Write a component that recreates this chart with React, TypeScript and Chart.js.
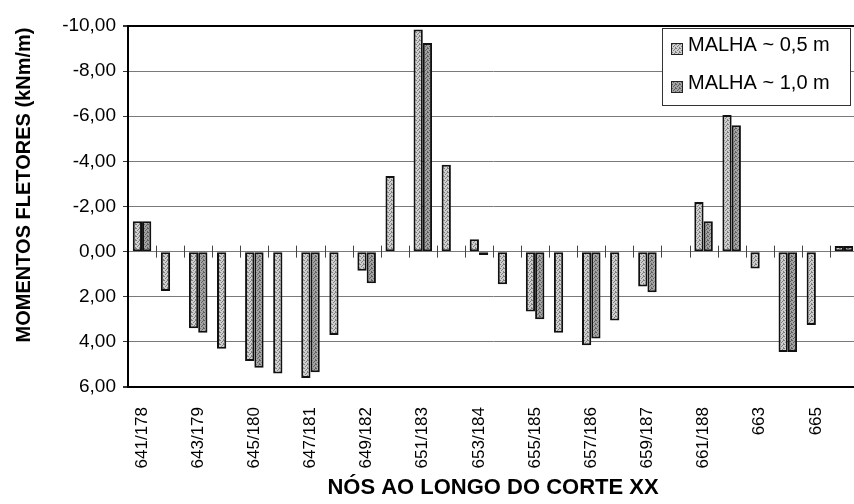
import React, { useEffect, useRef } from 'react';
import { Chart, registerables } from 'chart.js';

Chart.register(...registerables);

const nodes = ['641/178', '642', '643/179', '644', '645/180', '646', '647/181', '648', '649/182', '650', '651/183', '652', '653/184', '654', '655/185', '656', '657/186', '658', '659/187', '660', '661/188', '662', '663', '664', '665', '666'];
const tickLabels = ['641/178', '', '643/179', '', '645/180', '', '647/181', '', '649/182', '', '651/183', '', '653/184', '', '655/185', '', '657/186', '', '659/187', '', '661/188', '', '663', '', '665', ''];
const malha05 = [-1.35, 1.75, 3.4, 4.3, 4.85, 5.4, 5.6, 3.7, 0.85, -3.35, -9.85, -3.85, -0.55, 1.45, 2.65, 3.6, 4.15, 3.05, 1.55, null, -2.2, -6.05, 0.75, 4.45, 3.25, -0.25];
const malha10 = [-1.35, null, 3.6, null, 5.15, null, 5.35, null, 1.4, null, -9.25, null, 0.15, null, 3.0, null, 3.85, null, 1.8, null, -1.35, -5.6, null, 4.45, null, -0.25];
const seriesNames = ['MALHA ~ 0,5 m', 'MALHA ~ 1,0 m'];
const yMin = -10;
const yMax = 6;
const yStep = 2;
const yTitle = 'MOMENTOS FLETORES (kNm/m)';
const xTitle = 'NÓS AO LONGO DO CORTE XX';

const FONT = "Arial, 'Liberation Sans', sans-serif";

function makePattern(base: string, dot: string): CanvasPattern | string {
  const c = document.createElement('canvas');
  c.width = 4;
  c.height = 4;
  const g = c.getContext('2d');
  if (!g) return base;
  g.fillStyle = base;
  g.fillRect(0, 0, 4, 4);
  g.fillStyle = dot;
  g.fillRect(0, 0, 1, 1);
  g.fillRect(2, 1, 1, 1);
  g.fillRect(1, 2, 1, 1);
  g.fillRect(3, 3, 1, 1);
  g.fillRect(3, 0, 1, 1);
  const p = g.createPattern(c, 'repeat');
  return p || base;
}

const zeroTicksPlugin = {
  id: 'zeroTicks',
  beforeDatasetsDraw(chart: any) {
    const { ctx, scales } = chart;
    const x = scales.x;
    const y = scales.y;
    const y0 = y.getPixelForValue(0);
    const n = nodes.length;
    const w = (x.right - x.left) / n;
    ctx.save();
    ctx.strokeStyle = '#444';
    ctx.lineWidth = 1;
    for (let i = 1; i < n; i++) {
      const px = Math.round(x.left + w * i) + 0.5;
      ctx.beginPath();
      ctx.moveTo(px, y0 - 6);
      ctx.lineTo(px, y0 + 6);
      ctx.stroke();
    }
    ctx.restore();
  },
};

const customLegendPlugin = {
  id: 'customLegend',
  afterDraw(chart: any) {
    const { ctx, chartArea } = chart;
    const bw = 188;
    const bh = 77;
    const bx = chartArea.right - 8 - bw;
    const by = chartArea.top + 2;
    ctx.save();
    ctx.fillStyle = '#ffffff';
    ctx.fillRect(bx, by, bw, bh);
    ctx.strokeStyle = '#333';
    ctx.lineWidth = 1;
    ctx.strokeRect(bx + 0.5, by + 0.5, bw, bh);
    ctx.font = `20px ${FONT}`;
    ctx.textBaseline = 'middle';
    ctx.textAlign = 'left';
    chart.data.datasets.forEach((ds: any, i: number) => {
      const cy = by + 17 + i * 38;
      ctx.fillStyle = ds.backgroundColor;
      ctx.fillRect(bx + 9, cy - 2, 12, 12);
      ctx.strokeStyle = '#222';
      ctx.lineWidth = 1;
      ctx.strokeRect(bx + 9.5, cy - 1.5, 11, 11);
      ctx.fillStyle = '#000';
      ctx.fillText(ds.label, bx + 26, cy);
    });
    ctx.restore();
  },
};

const yTitlePlugin = {
  id: 'yTitleCustom',
  afterDraw(chart: any) {
    const { ctx } = chart;
    ctx.save();
    ctx.translate(24, 185);
    ctx.rotate(-Math.PI / 2);
    ctx.font = `bold 20px ${FONT}`;
    ctx.fillStyle = '#000';
    ctx.textAlign = 'center';
    ctx.textBaseline = 'middle';
    ctx.fillText(yTitle, 0, 0);
    ctx.restore();
  },
};

export default function App() {
  const canvasRef = useRef<HTMLCanvasElement | null>(null);

  useEffect(() => {
    if (!canvasRef.current) return;
    const light = makePattern('#cfcfcf', '#7e7e7e');
    const dark = makePattern('#a2a2a2', '#5e5e5e');
    const chart = new Chart(canvasRef.current, {
      type: 'bar',
      data: {
        labels: nodes,
        datasets: [
          {
            label: seriesNames[0],
            data: malha05 as any,
            backgroundColor: light as any,
            borderColor: '#111',
            borderWidth: 2,
            borderSkipped: false,
            barPercentage: 1.0,
            categoryPercentage: 0.66,
          },
          {
            label: seriesNames[1],
            data: malha10 as any,
            backgroundColor: dark as any,
            borderColor: '#111',
            borderWidth: 2,
            borderSkipped: false,
            barPercentage: 1.0,
            categoryPercentage: 0.66,
          },
        ],
      },
      options: {
        animation: false,
        responsive: true,
        maintainAspectRatio: false,
        layout: { padding: { left: 0, top: 26, right: 2, bottom: 0 } },
        plugins: {
          legend: { display: false },
          tooltip: { enabled: false },
        },
        scales: {
          x: {
            grid: { display: false, drawTicks: false },
            border: { display: true, color: '#000', width: 2 },
            ticks: {
              autoSkip: false,
              minRotation: 90,
              maxRotation: 90,
              padding: 20,
              color: '#000',
              font: { family: FONT, size: 17 },
              callback: (_v: any, i: number) => tickLabels[i],
            },
            title: {
              display: true,
              text: xTitle,
              color: '#000',
              font: { family: FONT, size: 22, weight: 'bold', lineHeight: 1 },
              padding: { top: 0, bottom: 5 },
            },
            afterFit: (scale: any) => {
              scale.height = 117;
              scale.paddingLeft = 0;
              scale.paddingRight = 0;
            },
          },
          y: {
            reverse: true,
            min: yMin,
            max: yMax,
            ticks: {
              stepSize: yStep,
              padding: 7,
              color: '#000',
              font: { family: FONT, size: 19 },
              callback: (v: any) => Number(v).toFixed(2).replace('.', ','),
            },
            grid: {
              color: (c: any) => (c.tick && (c.tick.value === yMin || c.tick.value === yMax) ? '#000' : '#7a7a7a'),
              lineWidth: (c: any) => (c.tick && (c.tick.value === yMin || c.tick.value === yMax) ? 2 : 1),
              tickLength: 5,
              tickColor: '#333',
            },
            border: { display: true, color: '#000', width: 2 },
            afterFit: (scale: any) => {
              scale.width = 128;
            },
          },
        },
      },
      plugins: [zeroTicksPlugin, customLegendPlugin, yTitlePlugin],
    });
    return () => chart.destroy();
  }, []);

  return (
    <div style={{ position: 'fixed', left: 0, top: 0, width: 860, height: 504, background: '#fff' }}>
      <canvas ref={canvasRef} />
    </div>
  );
}
